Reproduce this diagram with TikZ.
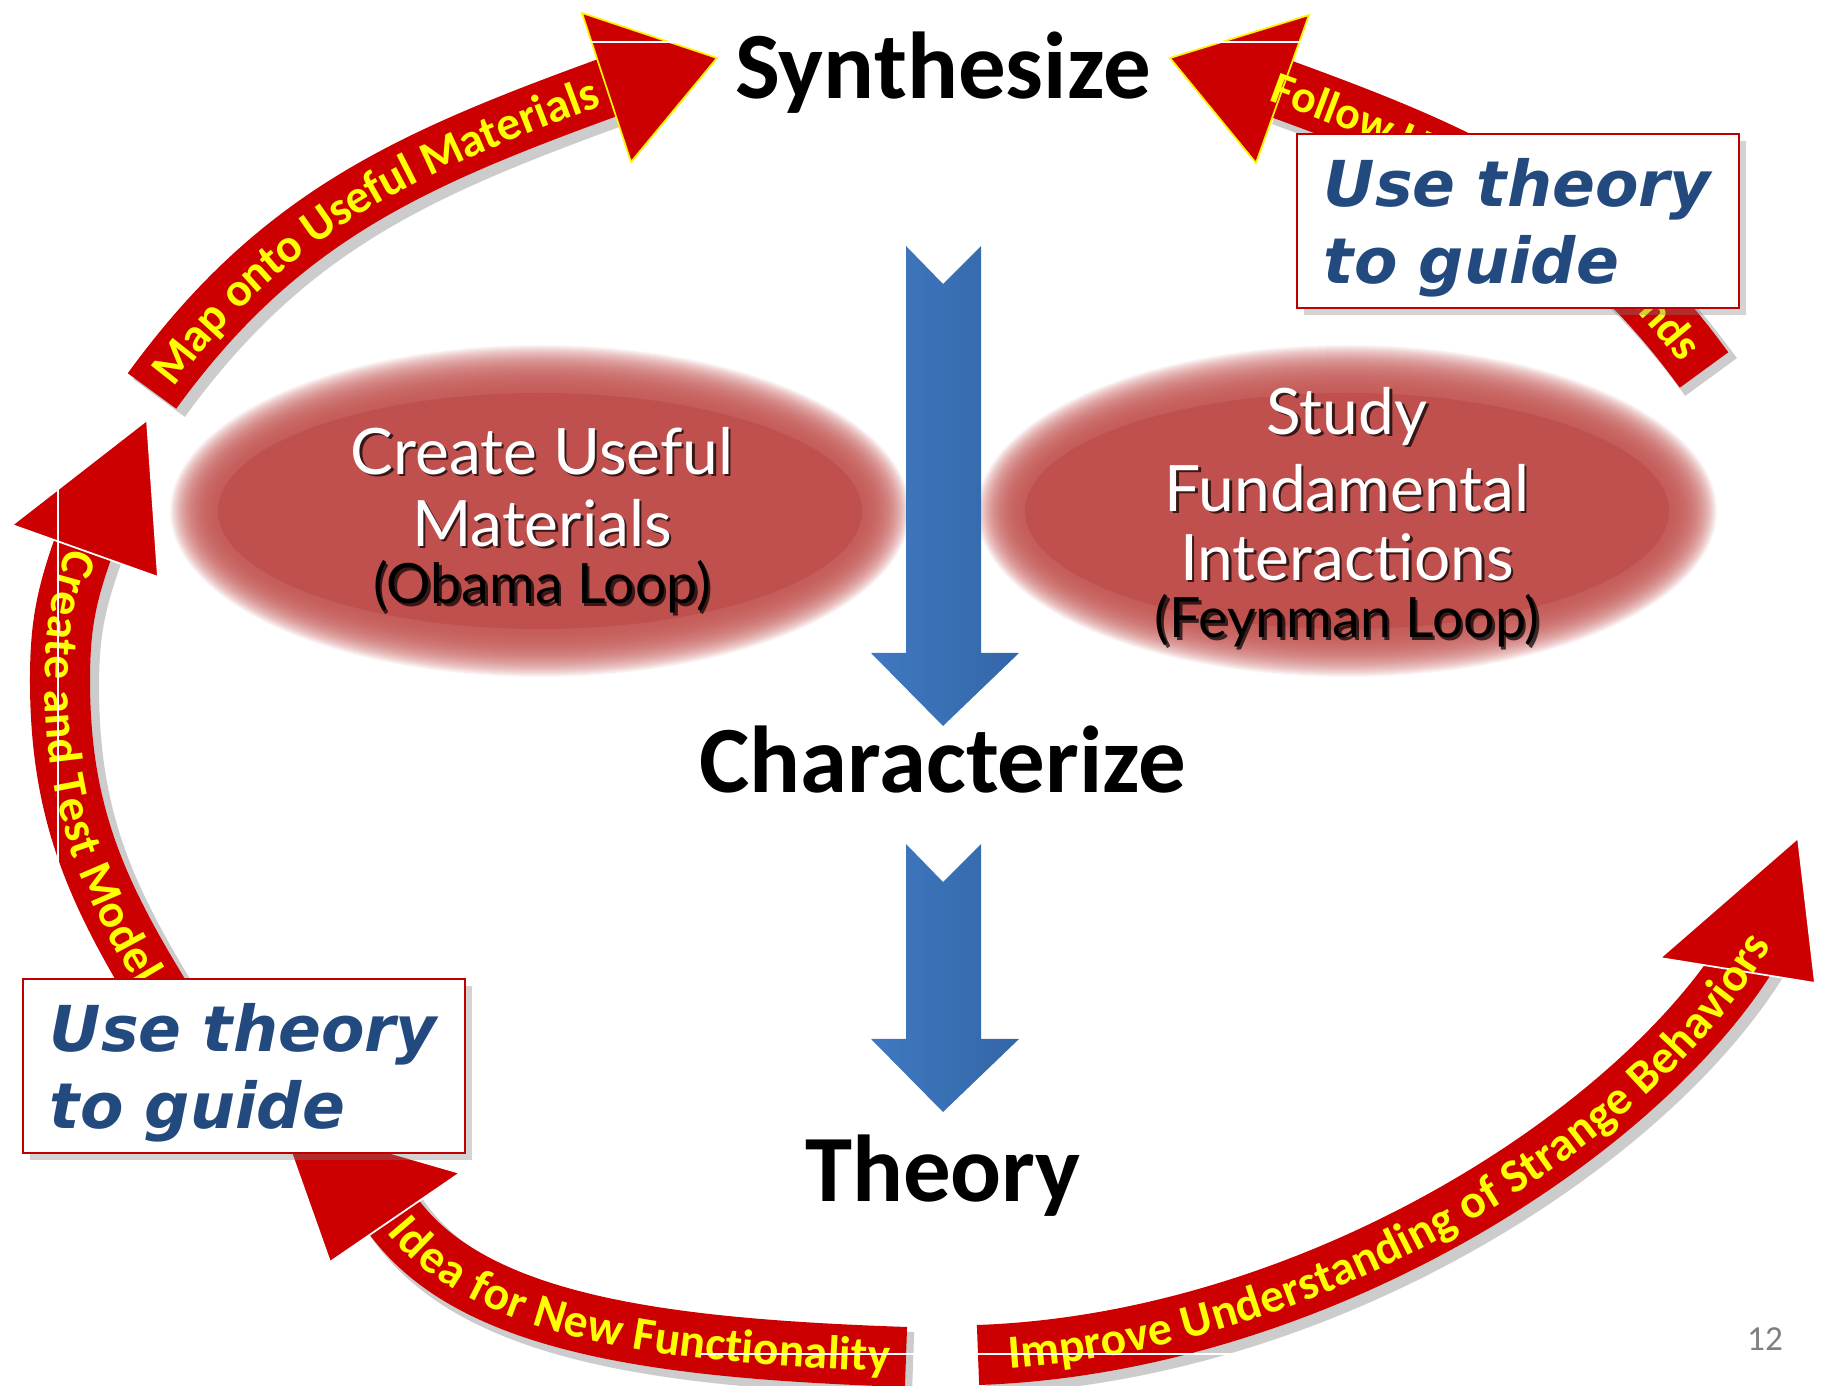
\documentclass[tikz,border=0pt]{standalone}
\usepackage{fontspec}
\setmainfont{Carlito}
\newfontfamily\latofont{Lato}
\newfontfamily\verdfont{DejaVu Sans}[BoldItalicFont={DejaVu Sans Bold Oblique}]
\usetikzlibrary{decorations.text,shadows}

\definecolor{arrowred}{HTML}{CC0000}
\definecolor{loopred}{HTML}{C0504D}
\definecolor{boxred}{HTML}{C00000}
\definecolor{guideblue}{HTML}{234A7E}
\definecolor{flowblue}{HTML}{4079C0}
\definecolor{flowblueD}{HTML}{3366A8}
\definecolor{bandyellow}{HTML}{FFFF00}

\tikzset{
  stage/.style={font=\bfseries\fontsize{27}{30}\selectfont, anchor=base, inner sep=0pt},
  looptxt/.style={font=\latofont\fontsize{18.2}{20}\selectfont, inner sep=0pt},
  loopsub/.style={font=\latofont\fontsize{15.8}{18}\selectfont, inner sep=0pt},
  band/.style={draw=arrowred, line width=0.6cm,
    preaction={draw=black, opacity=0.2, line width=0.64cm, transform canvas={shift={(2pt,-2pt)}}}},
  bandtext/.style n args={3}{decorate, decoration={text along path, raise=-4.3pt, text align={#2},
    text={|\bfseries\fontsize{#3}{#3}\selectfont\color{bandyellow}|#1}}},
  guidebox/.style={draw=boxred, line width=0.7pt, fill=white,
    minimum width=4.42cm, minimum height=1.74cm,
    drop shadow={shadow xshift=2pt, shadow yshift=-2pt, opacity=0.35}},
  guidetxt/.style={inner sep=0pt, text width=3.88cm, align=left,
    font=\verdfont\bfseries\itshape\fontsize{18}{21.8}\selectfont, text=guideblue},
}

\begin{document}
\begin{tikzpicture}[x=0.01cm,y=0.01cm]
\useasboundingbox (0,0) rectangle (1821,-1386);

\coordinate (obama) at (540,-511);
\coordinate (feyn) at (1347,-511);
\foreach \c in {obama,feyn}{
  \foreach \k in {0,...,47}
    \fill[loopred, opacity=0.055] (\c) ellipse [x radius=370-\k, y radius=166-\k];
  \fill[loopred] (\c) ellipse [x radius=322, y radius=118];
}

\foreach \top/\base in {246/653, 844/1039}
  \shade[left color=flowblue, right color=flowblueD]
    (906,-\top) -- (943,-\top-38) -- (981,-\top) -- (981,-\base) -- (1019,-\base)
    -- (943,-\base-73) -- (871,-\base) -- (906,-\base) -- cycle;

\node[stage] (synth) at (943,-99) {Synthesize};
\node[stage] (charac) at (943,-793) {Characterize};
\node[stage] (theory) at (943,-1202) {Theory};

\foreach \x/\y/\s/\c/\t [count=\i] in {
    542/451/looptxt/white/{Create Useful},
    542/523/looptxt/white/{Materials},
    542/587/loopsub/black/{(Obama Loop)},
    1347/416/looptxt/white/{Study},
    1347/488/looptxt/white/{Fundamental},
    1347/557/looptxt/white/{Interactions},
    1347/621/loopsub/black/{(Feynman Loop)}}{
  \node[\s, text=black, opacity=0.7] (shade\i) at (\x+2.5,-\y-2.5) {\t};
  \node[\s, text=\c] (line\i) at (\x,-\y) {\t};
}

\coordinate (tA) at (152,-391);
\coordinate (hA) at (612,-86);
\coordinate (tE) at (1704,-370);
\coordinate (hE) at (1276,-87);
\coordinate (tB) at (175,-1020);
\coordinate (mB) at (60,-680);
\coordinate (hB) at (85,-543);
\coordinate (tC) at (906,-1357);
\coordinate (hC) at (389,-1210);
\coordinate (tD) at (978,-1355);
\coordinate (hD) at (1749,-953);

\draw[band] (tA) to[out=54, in=200] (hA);
\draw[band] (tE) to[out=126, in=-20] (hE);
\draw[band] (tB) to[out=122, in=-90] (mB) to[out=90, in=250] (hB);
\draw[band] (tC) to[out=178, in=-56, out distance=2.4cm, in distance=1.4cm] (hC);
\draw[band] (tD) to[out=2, in=238, out distance=3.3cm, in distance=2.2cm] (hD);

\foreach \ax/\ay/\bx/\by/\cx/\cy/\e in {
    582/13/717/58/631/162/yellow,
    1309/15/1170/58/1256/163/yellow,
    12/525/147/420/158/577/white,
    330/1262/280/1121/460/1173/white,
    1660/958/1798/838/1815/983/white}
  \filldraw[fill=arrowred, draw=\e, line width=0.5pt]
    (\ax,-\ay) -- (\bx,-\by) -- (\cx,-\cy) -- cycle;

\path[bandtext={Map onto Useful Materials}{center}{13.5}] (tA) to[out=54, in=200] (hA);
\path[bandtext={Follow Unexpected Trends}{right, right indent=0.2cm}{13}] (hE) to[out=-20, in=126] (tE);
\path[bandtext={Create and Test Model}{left, left indent=0.1cm}{13.5}]
  (hB) to[out=250, in=90] (mB) to[out=-90, in=122] (tB);
\path[bandtext={Idea for New Functionality}{center}{13.5}]
  (hC) to[out=-56, in=178, out distance=1.4cm, in distance=2.4cm] (tC);
\path[bandtext={Improve Understanding of Strange Behaviors}{left, left indent=0.3cm}{13.5}]
  (tD) to[out=2, in=238, out distance=3.3cm, in distance=2.2cm] (hD) -- ++(58:40);

\draw[white, line width=0.5pt] (575,-42) -- (718,-42) (1168,-42) -- (1310,-42)
  (58,-465) -- (58,-885) (700,-1354) -- (1250,-1354);

\node[guidebox] (guideNE) at (1518,-221) {};
\node[guidetxt] (guideNEtxt) at (1518,-228) {Use theory\\to guide};
\node[guidebox] (guideSW) at (244,-1066) {};
\node[guidetxt] (guideSWtxt) at (244,-1073) {Use theory\\to guide};

\node[font=\fontsize{10}{12}\selectfont, text=black!50] (page) at (1765,-1339) {12};
\end{tikzpicture}
\end{document}
